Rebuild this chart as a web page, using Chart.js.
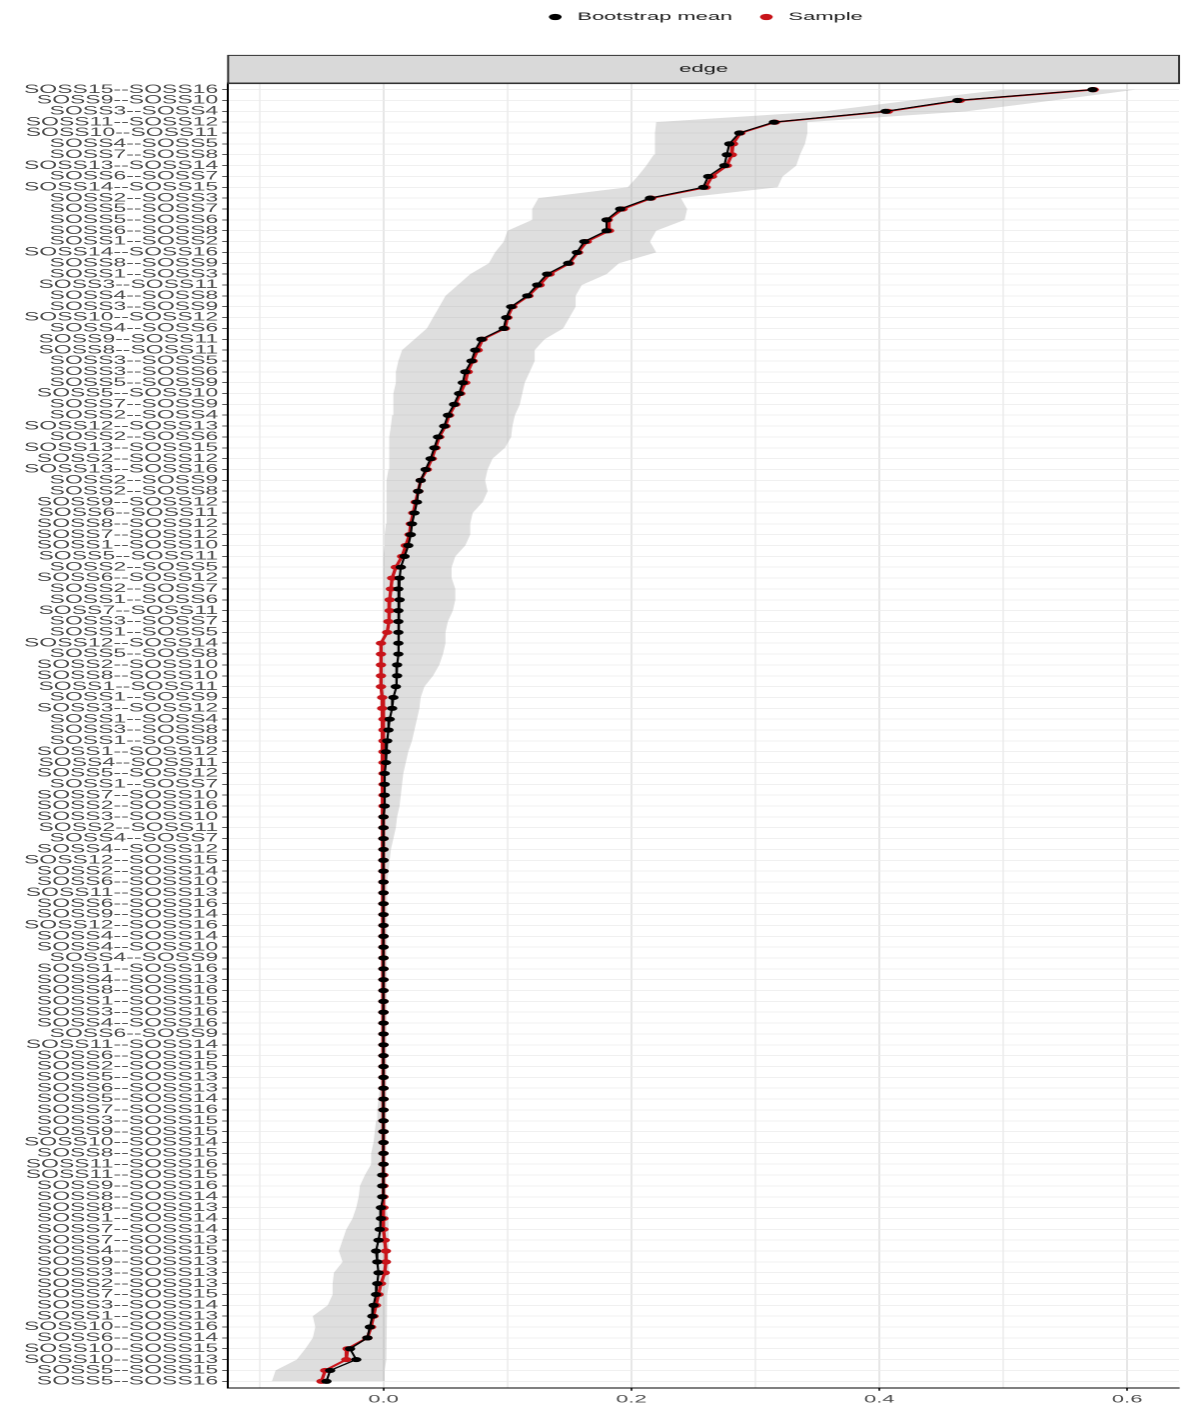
<!DOCTYPE html>
<html>
<head>
<meta charset="utf-8">
<title>Bootstrapped edge weights</title>
<script src="https://cdn.jsdelivr.net/npm/chart.js@4.4.1/dist/chart.umd.min.js"></script>
<style>
  html, body { margin: 0; padding: 0; background: #fff; overflow: hidden; }
  /* the reference is a horizontally stretched ggplot export, so draw narrow and stretch */
  #stretch { width: 595px; height: 1412px; transform: scaleX(1.99832); transform-origin: 0 0; }
</style>
</head>
<body>
<div id="stretch"><canvas id="edgeChart" width="595" height="1412"></canvas></div>
<script>
// ============ DATA ============
const edgeLabels = [
  "SOSS15--SOSS16", "SOSS9--SOSS10", "SOSS3--SOSS4", "SOSS11--SOSS12", "SOSS10--SOSS11",
  "SOSS4--SOSS5", "SOSS7--SOSS8", "SOSS13--SOSS14", "SOSS6--SOSS7", "SOSS14--SOSS15",
  "SOSS2--SOSS3", "SOSS5--SOSS7", "SOSS5--SOSS6", "SOSS6--SOSS8", "SOSS1--SOSS2",
  "SOSS14--SOSS16", "SOSS8--SOSS9", "SOSS1--SOSS3", "SOSS3--SOSS11", "SOSS4--SOSS8",
  "SOSS3--SOSS9", "SOSS10--SOSS12", "SOSS4--SOSS6", "SOSS9--SOSS11", "SOSS8--SOSS11",
  "SOSS3--SOSS5", "SOSS3--SOSS6", "SOSS5--SOSS9", "SOSS5--SOSS10", "SOSS7--SOSS9",
  "SOSS2--SOSS4", "SOSS12--SOSS13", "SOSS2--SOSS6", "SOSS13--SOSS15", "SOSS2--SOSS12",
  "SOSS13--SOSS16", "SOSS2--SOSS9", "SOSS2--SOSS8", "SOSS9--SOSS12", "SOSS6--SOSS11",
  "SOSS8--SOSS12", "SOSS7--SOSS12", "SOSS1--SOSS10", "SOSS5--SOSS11", "SOSS2--SOSS5",
  "SOSS6--SOSS12", "SOSS2--SOSS7", "SOSS1--SOSS6", "SOSS7--SOSS11", "SOSS3--SOSS7",
  "SOSS1--SOSS5", "SOSS12--SOSS14", "SOSS5--SOSS8", "SOSS2--SOSS10", "SOSS8--SOSS10",
  "SOSS1--SOSS11", "SOSS1--SOSS9", "SOSS3--SOSS12", "SOSS1--SOSS4", "SOSS3--SOSS8",
  "SOSS1--SOSS8", "SOSS1--SOSS12", "SOSS4--SOSS11", "SOSS5--SOSS12", "SOSS1--SOSS7",
  "SOSS7--SOSS10", "SOSS2--SOSS16", "SOSS3--SOSS10", "SOSS2--SOSS11", "SOSS4--SOSS7",
  "SOSS4--SOSS12", "SOSS12--SOSS15", "SOSS2--SOSS14", "SOSS6--SOSS10", "SOSS11--SOSS13",
  "SOSS6--SOSS16", "SOSS9--SOSS14", "SOSS12--SOSS16", "SOSS4--SOSS14", "SOSS4--SOSS10",
  "SOSS4--SOSS9", "SOSS1--SOSS16", "SOSS4--SOSS13", "SOSS8--SOSS16", "SOSS1--SOSS15",
  "SOSS3--SOSS16", "SOSS4--SOSS16", "SOSS6--SOSS9", "SOSS11--SOSS14", "SOSS6--SOSS15",
  "SOSS2--SOSS15", "SOSS5--SOSS13", "SOSS6--SOSS13", "SOSS5--SOSS14", "SOSS7--SOSS16",
  "SOSS3--SOSS15", "SOSS9--SOSS15", "SOSS10--SOSS14", "SOSS8--SOSS15", "SOSS11--SOSS16",
  "SOSS11--SOSS15", "SOSS9--SOSS16", "SOSS8--SOSS14", "SOSS8--SOSS13", "SOSS1--SOSS14",
  "SOSS7--SOSS14", "SOSS7--SOSS13", "SOSS4--SOSS15", "SOSS9--SOSS13", "SOSS3--SOSS13",
  "SOSS2--SOSS13", "SOSS7--SOSS15", "SOSS3--SOSS14", "SOSS1--SOSS13", "SOSS10--SOSS16",
  "SOSS6--SOSS14", "SOSS10--SOSS15", "SOSS10--SOSS13", "SOSS5--SOSS15", "SOSS5--SOSS16"
];

// edge weight in the original sample
const sampleValue = [
  0.573, 0.465, 0.407, 0.316, 0.288, 0.282, 0.281, 0.277, 0.265, 0.260,
  0.216, 0.193, 0.181, 0.182, 0.164, 0.157, 0.150, 0.134, 0.126, 0.117,
  0.104, 0.100, 0.098, 0.080, 0.076, 0.072, 0.068, 0.066, 0.062, 0.058,
  0.053, 0.050, 0.045, 0.042, 0.039, 0.035, 0.030, 0.028, 0.026, 0.024,
  0.022, 0.021, 0.018, 0.015, 0.010, 0.007, 0.006, 0.005, 0.005, 0.004,
  0.003, -0.002, -0.002, -0.002, -0.002, -0.002, -0.001, -0.001, 0.000, 0.000,
  0.000, 0.000, 0.000, 0.000, 0.000, 0.000, 0.000, 0.000, 0.000, 0.000,
  0.000, 0.000, 0.000, 0.000, 0.000, 0.000, 0.000, 0.000, 0.000, 0.000,
  0.000, 0.000, 0.000, 0.000, 0.000, 0.000, 0.000, 0.000, 0.000, 0.000,
  0.000, 0.000, 0.000, 0.000, 0.000, 0.000, 0.000, 0.000, 0.000, 0.000,
  0.000, 0.000, 0.000, 0.000, 0.000, 0.000, 0.001, 0.002, 0.002, 0.001,
  -0.002, -0.004, -0.006, -0.008, -0.010, -0.013, -0.029, -0.030, -0.047, -0.050
];

// mean edge weight over bootstrap samples
const bootMean = [
  0.572, 0.463, 0.405, 0.315, 0.287, 0.279, 0.277, 0.275, 0.262, 0.258,
  0.215, 0.191, 0.180, 0.180, 0.162, 0.156, 0.149, 0.132, 0.124, 0.116,
  0.103, 0.099, 0.097, 0.079, 0.074, 0.071, 0.066, 0.064, 0.061, 0.057,
  0.052, 0.049, 0.044, 0.041, 0.038, 0.034, 0.030, 0.028, 0.027, 0.025,
  0.023, 0.022, 0.020, 0.017, 0.014, 0.013, 0.012, 0.013, 0.012, 0.012,
  0.012, 0.012, 0.012, 0.011, 0.011, 0.010, 0.008, 0.007, 0.005, 0.004,
  0.003, 0.002, 0.002, 0.001, 0.001, 0.001, 0.001, 0.000, 0.000, 0.000,
  0.000, 0.000, 0.000, 0.000, 0.000, 0.000, 0.000, 0.000, 0.000, 0.000,
  0.000, 0.000, 0.000, 0.000, 0.000, 0.000, 0.000, 0.000, 0.000, 0.000,
  0.000, 0.000, 0.000, 0.000, 0.000, 0.000, 0.000, 0.000, 0.000, 0.000,
  -0.001, -0.001, -0.001, -0.002, -0.002, -0.003, -0.004, -0.006, -0.005, -0.004,
  -0.005, -0.006, -0.008, -0.009, -0.011, -0.013, -0.027, -0.022, -0.043, -0.046
];

// bootstrap interval (grey band)
const ciLower = [
  0.500, 0.425, 0.355, 0.220, 0.219, 0.219, 0.218, 0.212, 0.205, 0.197,
  0.125, 0.120, 0.120, 0.100, 0.097, 0.090, 0.085, 0.070, 0.060, 0.050,
  0.045, 0.040, 0.035, 0.025, 0.015, 0.012, 0.010, 0.010, 0.008, 0.008,
  0.007, 0.006, 0.005, 0.005, 0.004, 0.004, 0.003, 0.003, 0.002, 0.002,
  0.002, 0.001, 0.001, 0.000, 0.000, 0.000, 0.000, 0.000, 0.000, 0.000,
  0.000, -0.003, -0.003, -0.003, -0.003, -0.003, -0.002, -0.002, 0.000, 0.000,
  0.000, 0.000, 0.000, 0.000, 0.000, 0.000, 0.000, 0.000, 0.000, 0.000,
  0.000, 0.000, 0.000, 0.000, 0.000, 0.000, 0.000, 0.000, 0.000, 0.000,
  0.000, 0.000, 0.000, 0.000, 0.000, 0.000, 0.000, 0.000, 0.000, -0.001,
  -0.001, -0.002, -0.003, -0.004, -0.005, -0.006, -0.007, -0.008, -0.010, -0.010,
  -0.015, -0.019, -0.020, -0.022, -0.025, -0.030, -0.033, -0.036, -0.033, -0.040,
  -0.041, -0.041, -0.045, -0.057, -0.055, -0.057, -0.063, -0.070, -0.087, -0.090
];

const ciUpper = [
  0.607, 0.540, 0.470, 0.342, 0.342, 0.340, 0.336, 0.333, 0.322, 0.318,
  0.240, 0.245, 0.243, 0.220, 0.215, 0.220, 0.190, 0.180, 0.160, 0.155,
  0.155, 0.150, 0.145, 0.130, 0.122, 0.122, 0.118, 0.114, 0.112, 0.110,
  0.106, 0.104, 0.103, 0.098, 0.088, 0.084, 0.082, 0.084, 0.080, 0.072,
  0.070, 0.070, 0.066, 0.058, 0.055, 0.055, 0.058, 0.058, 0.056, 0.052,
  0.050, 0.050, 0.048, 0.045, 0.040, 0.033, 0.030, 0.029, 0.027, 0.025,
  0.023, 0.020, 0.018, 0.016, 0.015, 0.014, 0.013, 0.011, 0.010, 0.008,
  0.006, 0.005, 0.004, 0.003, 0.002, 0.002, 0.002, 0.002, 0.002, 0.002,
  0.002, 0.002, 0.002, 0.002, 0.002, 0.002, 0.002, 0.002, 0.002, 0.002,
  0.002, 0.002, 0.002, 0.002, 0.002, 0.002, 0.002, 0.002, 0.002, 0.002,
  0.002, 0.003, 0.003, 0.003, 0.004, 0.004, 0.005, 0.005, 0.005, 0.004,
  0.004, 0.003, 0.003, 0.003, 0.002, 0.002, 0.002, 0.002, 0.001, 0.001
];

const xGridValues = [-0.1, 0.0, 0.1, 0.2, 0.3, 0.4, 0.5, 0.6];
const xTickLabels = ["", "0.0", "", "0.2", "", "0.4", "", "0.6"];
const X_MIN = -0.1253;
const X_MAX = 0.6418;
const STRIP_LABEL = "edge";

// ============ UTILS ============
const rowIndex = edgeLabels.map((_, i) => i + 1);
function toPoints(vals) {
  return vals.map((v, i) => ({ x: v, y: rowIndex[i] }));
}

Chart.defaults.font.family = "'Liberation Sans', Arial, Helvetica, sans-serif";

// centre the legend over the panel and outline the facet strip
const stripPlugin = {
  id: "stripPlugin",
  afterLayout(chart) {
    const area = chart.chartArea;
    chart.legend.left = area.left;
    chart.legend.right = area.right;
  },
  afterDraw(chart) {
    const s = chart.scales.x2;
    const ctx = chart.ctx;
    ctx.save();
    ctx.strokeStyle = "#333333";
    ctx.lineWidth = 1;
    ctx.strokeRect(s.left, s.top + 0.5, s.width, s.height);
    ctx.restore();
  }
};

// ============ CHART ============
new Chart(document.getElementById("edgeChart"), {
  type: "line",
  plugins: [stripPlugin],
  data: {
    datasets: [
      {
        label: "Bootstrap mean",
        data: toPoints(bootMean),
        borderColor: "#000000",
        backgroundColor: "#000000",
        borderWidth: 1.1,
        pointRadius: 2.6,
        pointBorderWidth: 0,
        order: 1
      },
      {
        label: "Sample",
        data: toPoints(sampleValue),
        borderColor: "#c8141a",
        backgroundColor: "#c8141a",
        borderWidth: 1.7,
        pointRadius: 2.6,
        pointBorderWidth: 0,
        order: 2
      },
      {
        label: "lower",
        data: toPoints(ciLower),
        borderColor: "rgba(0,0,0,0)",
        borderWidth: 0,
        pointRadius: 0,
        fill: false,
        order: 3
      },
      {
        label: "upper",
        data: toPoints(ciUpper),
        borderColor: "rgba(0,0,0,0)",
        backgroundColor: "rgba(160,160,160,0.35)",
        borderWidth: 0,
        pointRadius: 0,
        fill: "-1",
        order: 3
      }
    ]
  },
  options: {
    indexAxis: "y",
    responsive: false,
    devicePixelRatio: 2,
    animation: false,
    events: [],
    layout: { padding: { left: 10, right: 5, top: 0, bottom: 4 } },
    elements: { line: { tension: 0 } },
    plugins: {
      tooltip: { enabled: false },
      legend: {
        position: "top",
        align: "center",
        labels: {
          usePointStyle: true,
          pointStyle: "circle",
          boxWidth: 11,
          boxHeight: 4.5,
          padding: 11.5,
          color: "#1a1a1a",
          font: { size: 11 },
          filter: item => item.datasetIndex < 2
        }
      },
      title: {
        display: true,
        text: "",
        weight: 500,
        padding: { top: 8, bottom: 0 },
        font: { size: 12 }
      }
    },
    scales: {
      x: {
        type: "linear",
        position: "bottom",
        bounds: "data",
        min: X_MIN,
        max: X_MAX,
        afterBuildTicks: axis => { axis.ticks = xGridValues.map(v => ({ value: v })); },
        ticks: {
          callback: (v, i) => xTickLabels[i],
          color: "#4d4d4d",
          font: { size: 11 },
          padding: 2,
          maxRotation: 0,
          autoSkip: false
        },
        grid: {
          color: "#e6e6e6",
          lineWidth: c => (xTickLabels[c.index] ? 1 : 0.6),
          tickLength: 3,
          tickColor: c => (xTickLabels[c.index] ? "#333333" : "rgba(0,0,0,0)")
        },
        border: { display: true, color: "#000000", width: 1 }
      },
      x2: {
        type: "linear",
        axis: "x",
        position: "top",
        weight: 0,
        min: X_MIN,
        max: X_MAX,
        ticks: { display: false },
        grid: { display: false, drawTicks: false },
        border: { display: true, color: "#333333", width: 1 },
        title: {
          display: true,
          text: STRIP_LABEL,
          color: "#1a1a1a",
          font: { size: 11 },
          padding: { top: 7.5, bottom: 7.5 }
        },
        backgroundColor: "#d9d9d9"
      },
      y: {
        type: "linear",
        reverse: true,
        bounds: "data",
        min: 0.4,
        max: edgeLabels.length + 0.6,
        afterBuildTicks: axis => { axis.ticks = rowIndex.map(v => ({ value: v })); },
        ticks: {
          callback: v => edgeLabels[Math.round(v) - 1],
          color: "#4d4d4d",
          font: { size: 11.5 },
          padding: 2,
          autoSkip: false
        },
        grid: { color: "#ebebeb", lineWidth: 0.8, tickLength: 3, tickColor: "#333333" },
        border: { display: true, color: "#000000", width: 1 }
      }
    }
  }
});
</script>
</body>
</html>
